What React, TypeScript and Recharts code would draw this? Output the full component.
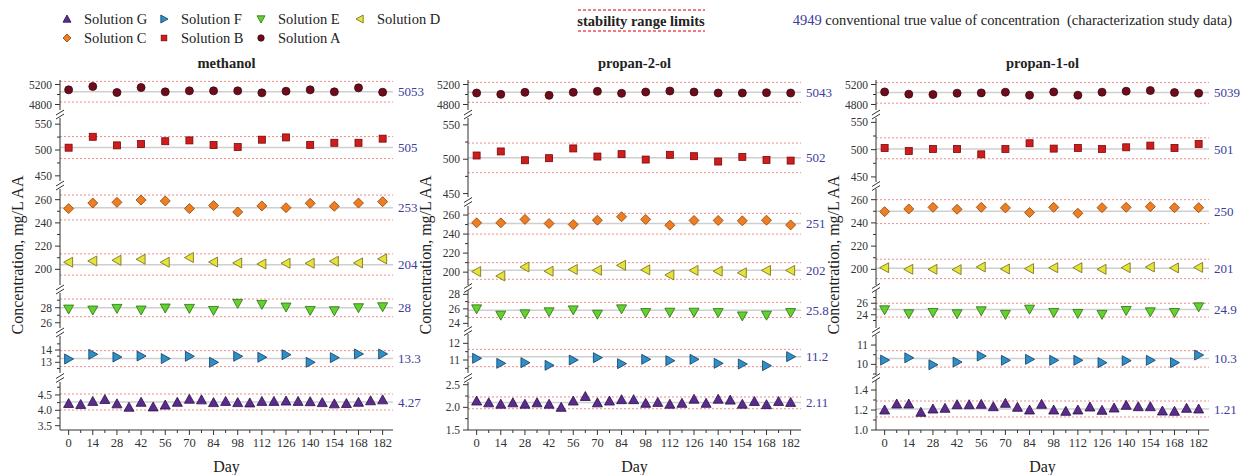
import React from 'react';
import { ScatterChart, Scatter, XAxis, YAxis, ReferenceLine } from 'recharts';

const SERIF = "'Liberation Serif', 'Times New Roman', serif";

const DAYS = [0, 14, 28, 42, 56, 70, 84, 98, 112, 126, 140, 154, 168, 182];
const DAYS_G = [0, 7, 14, 21, 28, 35, 42, 49, 56, 63, 70, 77, 84, 91, 98, 105, 112, 119, 126, 133, 140, 147, 154, 161, 168, 175, 182];
const X_TICKS = DAYS_G;
const SOLUTIONS = ['Solution A', 'Solution B', 'Solution C', 'Solution D', 'Solution E', 'Solution F', 'Solution G'];

// methanol
const methanolA = [5093, 5160, 5040, 5140, 5053, 5073, 5073, 5073, 5033, 5066, 5093, 5053, 5133, 5046];
const methanolB = [504.5, 525.6, 509, 511.5, 517, 518.6, 509.6, 505.8, 520, 524.4, 510, 514, 514, 522];
const methanolC = [252.3, 257.1, 257.7, 259.7, 258.9, 252.3, 254.9, 249.4, 254.6, 253.1, 256.9, 254.3, 257.1, 258.3];
const methanolD = [206.1, 207.2, 207.8, 208.7, 206.1, 210.1, 206.3, 205.5, 204.6, 205.2, 205.2, 207, 205.5, 209];
const methanolE = [27.82, 27.69, 27.91, 27.69, 27.96, 27.91, 27.64, 28.58, 28.44, 28.09, 27.64, 27.6, 28, 28.13];
const methanolF = [13.27, 13.65, 13.43, 13.51, 13.3, 13.49, 13.0, 13.49, 13.41, 13.62, 13.0, 13.38, 13.68, 13.68];
const methanolG = [4.22, 4.19, 4.29, 4.35, 4.21, 4.1, 4.26, 4.11, 4.17, 4.26, 4.36, 4.34, 4.25, 4.29, 4.25, 4.24, 4.29, 4.29, 4.3, 4.29, 4.28, 4.25, 4.21, 4.22, 4.26, 4.31, 4.34];
const methanolTrue = [5053, 505, 253, 204, 28, 13.3, 4.27];
const methanolLow = [4850, 483.5, 242.6, 195, 26.8, 12.65, 4.01];
const methanolHigh = [5262, 526, 264, 213.3, 29.16, 13.95, 4.53];

// propan-2-ol
const prop2A = [5030, 5003, 5043, 4983, 5043, 5063, 5023, 5050, 5070, 5050, 5030, 5030, 5036, 5030];
const prop2B = [505.4, 511.3, 498.5, 501.5, 515.7, 503.9, 507.4, 499.5, 506.4, 504.4, 496.6, 503.4, 499, 498];
const prop2C = [251.8, 251.8, 255.4, 251.1, 250, 254.6, 258.2, 255.4, 249.3, 254.3, 254.3, 253.9, 254.6, 249.6];
const prop2D = [200.6, 196, 205.4, 201, 202.8, 202, 207.2, 202.4, 197, 201.8, 201, 199.3, 201.8, 201.8];
const prop2E = [26, 25.13, 25.31, 25.59, 25.86, 25.26, 26, 25.49, 25.54, 25.54, 25.49, 25.03, 25.13, 25.49];
const prop2F = [11.1, 10.8, 10.84, 10.68, 11, 11.14, 10.78, 11.04, 10.96, 11.04, 10.8, 10.76, 10.66, 11.2];
const prop2G = [2.14, 2.1, 2.07, 2.1, 2.07, 2.1, 2.07, 2.0, 2.14, 2.24, 2.1, 2.14, 2.17, 2.17, 2.09, 2.11, 2.07, 2.09, 2.18, 2.09, 2.18, 2.16, 2.07, 2.13, 2.06, 2.13, 2.11];
const prop2True = [5043, 502, 251, 202, 25.8, 11.2, 2.11];
const prop2Low = [4843, 480.5, 240, 192.5, 24.8, 10.6, 1.97];
const prop2High = [5243, 523.5, 261.8, 210, 26.9, 11.64, 2.23];

// propan-1-ol
const prop1A = [5052, 5006, 4999, 5026, 5032, 5046, 4986, 5052, 4986, 5046, 5066, 5079, 5039, 5026];
const prop1B = [503, 497.5, 501.2, 501.2, 491.4, 501.2, 511.7, 501.9, 503.1, 501.2, 504.3, 507.4, 503.1, 510.5];
const prop1C = [249.7, 252, 253.4, 251.7, 253.4, 252.9, 248.9, 253.4, 248.3, 253.1, 253.4, 254, 253.1, 253.1];
const prop1D = [201.4, 200, 200, 199.7, 202, 200.3, 200.6, 201.4, 201.4, 200, 201.4, 202, 201.2, 201.7];
const prop1E = [24.86, 24.17, 24.4, 24.17, 24.69, 24.06, 24.97, 24.4, 24.23, 24.06, 24.74, 24.51, 24.4, 25.37];
const prop1F = [10.22, 10.34, 9.98, 10.12, 10.43, 10.21, 10.26, 10.21, 10.21, 10.09, 10.19, 10.21, 10.09, 10.48];
const prop1G = [1.2, 1.26, 1.26, 1.177, 1.21, 1.217, 1.253, 1.253, 1.257, 1.233, 1.267, 1.227, 1.2, 1.257, 1.2, 1.187, 1.2, 1.23, 1.197, 1.22, 1.247, 1.233, 1.233, 1.19, 1.187, 1.217, 1.21];
const prop1True = [5039, 501, 250, 201, 24.9, 10.3, 1.21];
const prop1Low = [4826, 483.3, 239.4, 192, 23.6, 9.86, 1.13];
const prop1High = [5239, 521.6, 260, 208.7, 26, 10.71, 1.29];

const MARK_FILL = ['#6e0c1a', '#cf1c1c', '#ef7d22', '#e6e23c', '#62d22e', '#2d8fca', '#5b2c8e'];
const MARK_STROKE = ['#3a0610', '#7a0808', '#8a4208', '#6e6a10', '#2c6c12', '#123e5e', '#2a1048'];

// sub-axes: which solutions, y range, ticks and where each strip sits
const methanolLayout = [
    { keys: [0], domain: [4690, 5290], major: [4800, 5200], minor: [5000], top: 80, height: 30, dec: 0 },
    { keys: [1], domain: [440, 562], major: [450, 500, 550], minor: [475, 525], top: 118, height: 63, dec: 0 },
    { keys: [2, 3], domain: [186.5, 269.2], major: [200, 220, 240, 260], minor: [210, 230, 250], top: 189, height: 96, dec: 0 },
    { keys: [4], domain: [25.3, 29.96], major: [26, 28], minor: [27, 29], top: 293, height: 35, dec: 0 },
    { keys: [5], domain: [12.13, 15.14], major: [13, 14], minor: [12.5, 13.5, 14.5], top: 336, height: 37, dec: 0 },
    { keys: [6], domain: [3.36, 4.92], major: [3.5, 4, 4.5], minor: [3.75, 4.25, 4.75], top: 382, height: 48, dec: 1 },
];
const prop2Layout = [
    { keys: [0], domain: [4690, 5290], major: [4800, 5200], minor: [5000], top: 80, height: 30, dec: 0 },
    { keys: [1], domain: [445, 560], major: [450, 500, 550], minor: [475, 525], top: 118, height: 79, dec: 0 },
    { keys: [2, 3], domain: [186.5, 269.5], major: [200, 220, 240, 260], minor: [210, 230, 250], top: 206, height: 79, dec: 0 },
    { keys: [4], domain: [23.5, 28.6], major: [24, 26, 28], minor: [25, 27], top: 290, height: 37, dec: 0 },
    { keys: [5], domain: [10.22, 12.56], major: [11, 12], minor: [10.5, 11.5], top: 334, height: 39, dec: 0 },
    { keys: [6], domain: [1.5, 2.56], major: [1.5, 2, 2.5], minor: [1.75, 2.25], top: 382, height: 48, dec: 1 },
];
const prop1Layout = [
    { keys: [0], domain: [4690, 5290], major: [4800, 5200], minor: [5000], top: 80, height: 30, dec: 0 },
    { keys: [1], domain: [440.7, 558], major: [450, 500, 550], minor: [475, 525], top: 118, height: 64, dec: 0 },
    { keys: [2, 3], domain: [186.5, 269.2], major: [200, 220, 240, 260], minor: [210, 230, 250], top: 189, height: 96, dec: 0 },
    { keys: [4], domain: [21.7, 28.3], major: [24, 26], minor: [23, 25, 27], top: 290, height: 38, dec: 0 },
    { keys: [5], domain: [9.45, 11.52], major: [10, 11], minor: [9.5, 10.5], top: 335, height: 40, dec: 0 },
    { keys: [6], domain: [1.0, 1.5], major: [1.0, 1.2, 1.4], minor: [1.1, 1.3], top: 380, height: 50, dec: 1 },
];

const PANELS = [
    { title: 'methanol', series: [methanolA, methanolB, methanolC, methanolD, methanolE, methanolF, methanolG], trueVals: methanolTrue, low: methanolLow, high: methanolHigh, layout: methanolLayout, plotLeft: 60 },
    { title: 'propan-2-ol', series: [prop2A, prop2B, prop2C, prop2D, prop2E, prop2F, prop2G], trueVals: prop2True, low: prop2Low, high: prop2High, layout: prop2Layout, plotLeft: 468 },
    { title: 'propan-1-ol', series: [prop1A, prop1B, prop1C, prop1D, prop1E, prop1F, prop1G], trueVals: prop1True, low: prop1Low, high: prop1High, layout: prop1Layout, plotLeft: 876 },
];

const PLOT_W = 333;
const YAXIS_W = 55;
const RIGHT_M = 40;
const XAXIS_H = 45;
const TXT = { fontFamily: SERIF };

const Marker = ({ kind, cx, cy, s = 1 }: { kind: number; cx: number; cy: number; s?: number }) => {
    const p = { fill: MARK_FILL[kind], stroke: MARK_STROKE[kind], strokeWidth: 0.8 };
    switch (kind) {
        case 0:
            return <circle cx={cx} cy={cy} r={4 * s} {...p} />;
        case 1:
            return <rect x={cx - 3.5 * s} y={cy - 3.5 * s} width={7 * s} height={7 * s} {...p} />;
        case 2:
            return <polygon points={`${cx},${cy - 5 * s} ${cx + 5 * s},${cy} ${cx},${cy + 5 * s} ${cx - 5 * s},${cy}`} {...p} />;
        case 3:
            return <polygon points={`${cx - 5 * s},${cy} ${cx + 4 * s},${cy - 5 * s} ${cx + 4 * s},${cy + 5 * s}`} {...p} />;
        case 4:
            return <polygon points={`${cx - 5 * s},${cy - 4 * s} ${cx + 5 * s},${cy - 4 * s} ${cx},${cy + 5 * s}`} {...p} />;
        case 5:
            return <polygon points={`${cx + 5 * s},${cy} ${cx - 4 * s},${cy - 5 * s} ${cx - 4 * s},${cy + 5 * s}`} {...p} />;
        default:
            return <polygon points={`${cx},${cy - 5 * s} ${cx + 5 * s},${cy + 4 * s} ${cx - 5 * s},${cy + 4 * s}`} {...p} />;
    }
};

const yTick = (major: number[], dec: number) => (p: any) => {
    const v = p.payload.value;
    const isMajor = major.some((m) => Math.abs(m - v) < 1e-9);
    const ax = p.x + 8;
    return (
        <g>
            <line x1={ax - (isMajor ? 5 : 3)} x2={ax} y1={p.y} y2={p.y} stroke="#333" />
            {isMajor && (
                <text x={p.x} y={p.y} dy="0.35em" textAnchor="end" fontSize={11.5} fill="#333" style={TXT}>
                    {v.toFixed(dec)}
                </text>
            )}
        </g>
    );
};

const xTick = (p: any) => {
    const v = p.payload.value;
    const isMajor = v % 14 === 0;
    const ay = p.y - 8;
    return (
        <g>
            <line x1={p.x} x2={p.x} y1={ay} y2={ay + (isMajor ? 5 : 3)} stroke="#333" />
            {isMajor && (
                <text x={p.x} y={p.y} dy="0.71em" textAnchor="middle" fontSize={12.5} fill="#333" style={TXT}>
                    {v}
                </text>
            )}
        </g>
    );
};

const Strip = ({ panel, group, last }: any) => {
    const h = group.height + (last ? XAXIS_H : 0);
    return (
        <div style={{ position: 'absolute', left: panel.plotLeft - YAXIS_W, top: group.top }}>
            <ScatterChart width={YAXIS_W + PLOT_W + RIGHT_M} height={h} margin={{ top: 0, right: RIGHT_M, bottom: 0, left: 0 }}>
                <XAxis
                    type="number"
                    dataKey="day"
                    domain={[-5, 188]}
                    ticks={X_TICKS}
                    interval={0}
                    hide={!last}
                    height={XAXIS_H}
                    tickSize={0}
                    tickMargin={8}
                    tick={xTick}
                    axisLine={{ stroke: '#333' }}
                />
                <YAxis
                    type="number"
                    dataKey="v"
                    domain={group.domain}
                    ticks={[...group.major, ...group.minor].sort((a, b) => a - b)}
                    interval={0}
                    width={YAXIS_W}
                    tickSize={0}
                    tickMargin={8}
                    tick={yTick(group.major, group.dec)}
                    axisLine={{ stroke: '#333' }}
                />
                {group.keys.map((k: number) => (
                    <ReferenceLine key={`lo${k}`} y={panel.low[k]} stroke="#f08a8a" strokeDasharray="2 2" />
                ))}
                {group.keys.map((k: number) => (
                    <ReferenceLine key={`hi${k}`} y={panel.high[k]} stroke="#f08a8a" strokeDasharray="2 2" />
                ))}
                {group.keys.map((k: number) => (
                    <ReferenceLine
                        key={`tv${k}`}
                        y={panel.trueVals[k]}
                        stroke="#cfcfcf"
                        strokeWidth={1.5}
                        label={{ value: String(panel.trueVals[k]), position: 'right', fill: '#3c3c9e', fontSize: 13, style: TXT }}
                    />
                ))}
                {group.keys.map((k: number) => {
                    const days = k === 6 ? DAYS_G : DAYS;
                    return (
                        <Scatter
                            key={`s${k}`}
                            name={SOLUTIONS[k]}
                            data={days.map((d, i) => ({ day: d, v: panel.series[k][i] }))}
                            isAnimationActive={false}
                            shape={(p: any) => <Marker kind={k} cx={p.cx} cy={p.cy} />}
                        />
                    );
                })}
            </ScatterChart>
        </div>
    );
};

const LEGEND = [
    { kind: 6, x: 67, y: 19 },
    { kind: 5, x: 164, y: 19 },
    { kind: 4, x: 261, y: 19 },
    { kind: 3, x: 360, y: 19 },
    { kind: 2, x: 67, y: 38 },
    { kind: 1, x: 164, y: 38 },
    { kind: 0, x: 261, y: 38 },
];

const Overlay = () => (
    <svg width={1244} height={475} style={{ position: 'absolute', left: 0, top: 0, pointerEvents: 'none', ...TXT }}>
        {LEGEND.map((l) => (
            <g key={l.kind}>
                <Marker kind={l.kind} cx={l.x} cy={l.y} s={0.8} />
                <text x={l.x + 17} y={l.y} dy="0.35em" fontSize={14.5} fill="#222" style={TXT}>
                    {SOLUTIONS[l.kind]}
                </text>
            </g>
        ))}
        <line x1={578} x2={705} y1={10} y2={10} stroke="#e8505a" strokeWidth={1.3} strokeDasharray="3 2" />
        <line x1={578} x2={705} y1={31} y2={31} stroke="#e8505a" strokeWidth={1.3} strokeDasharray="3 2" />
        <text x={641} y={21} dy="0.35em" textAnchor="middle" fontSize={14.5} fontWeight="bold" fill="#222" style={TXT}>
            stability range limits
        </text>
        <text x={1232} y={20} dy="0.35em" textAnchor="end" fontSize={14.5} fill="#222" style={TXT}>
            <tspan fill="#3c3c9e">4949</tspan> conventional true value of concentration {'\u00a0'}(characterization study data)
        </text>
        {PANELS.map((panel) => {
            const cx = panel.plotLeft + PLOT_W / 2;
            const ax = panel.plotLeft;
            return (
                <g key={panel.title}>
                    <text x={cx} y={63} dy="0.35em" textAnchor="middle" fontSize={14.5} fontWeight="bold" fill="#222" style={TXT}>
                        {panel.title}
                    </text>
                    <text x={cx} y={466} dy="0.35em" textAnchor="middle" fontSize={16} fill="#222" style={TXT}>
                        Day
                    </text>
                    <text
                        transform={`translate(${ax - 43}, 255) rotate(-90)`}
                        textAnchor="middle"
                        dy="0.35em"
                        fontSize={16}
                        fill="#222"
                        style={TXT}
                    >
                        Concentration, mg/L AA
                    </text>
                    {panel.layout.slice(1).map((g, i) => {
                        const prev = panel.layout[i];
                        const gc = (prev.top + prev.height + g.top) / 2;
                        return (
                            <g key={i} stroke="#333" strokeWidth={1}>
                                <line x1={ax - 4} y1={gc + 1} x2={ax + 4} y2={gc - 4} />
                                <line x1={ax - 4} y1={gc + 5} x2={ax + 4} y2={gc} />
                            </g>
                        );
                    })}
                </g>
            );
        })}
    </svg>
);

export default function App() {
    return (
        <div style={{ position: 'relative', width: 1244, height: 475, background: '#fff', overflow: 'hidden' }}>
            <style>{'body{margin:0} .recharts-surface{overflow:visible}'}</style>
            {PANELS.map((panel) =>
                panel.layout.map((g, i) => (
                    <Strip key={`${panel.title}-${i}`} panel={panel} group={g} last={i === panel.layout.length - 1} />
                ))
            )}
            <Overlay />
        </div>
    );
}
